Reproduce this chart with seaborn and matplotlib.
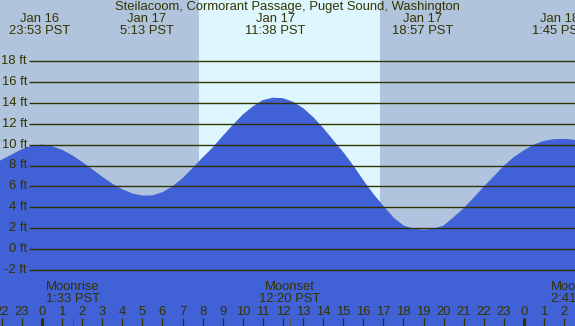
import numpy as np
import pandas as pd
import matplotlib
matplotlib.use("Agg")
import matplotlib.pyplot as plt
import seaborn as sns

# ── data (hours relative to Jan 17 00:00 PST) ──────────────────────────────
tide_hours = np.arange(-3.0, 27.01, 0.5)
tide_ft = [7.5, 8.0, 8.5, 9.0, 9.5, 9.85, 9.95, 9.79, 9.44, 8.92,
           8.28, 7.57, 6.86, 6.20, 5.66, 5.27, 5.07, 5.09, 5.39, 5.94,
           6.72, 7.68, 8.70, 9.65, 10.75, 11.8, 12.8, 13.6, 14.2, 14.44,
           14.38, 14.04, 13.43, 12.57, 11.52, 10.35, 9.2, 7.9, 6.5, 5.2,
           4.05, 2.95, 2.2, 1.9, 1.8, 1.9, 2.2, 3.0, 3.85, 4.85,
           5.9, 6.9, 7.9, 8.75, 9.4, 9.95, 10.3, 10.47, 10.5, 10.4, 10.25]

extreme_hours = [-7 / 60, 5 + 13 / 60, 11 + 38 / 60, 18 + 57 / 60, 25 + 45 / 60]
extreme_dates = ["Jan 16", "Jan 17", "Jan 17", "Jan 17", "Jan 18"]
extreme_times = ["23:53 PST", "5:13 PST", "11:38 PST", "18:57 PST", "1:45 PST"]

sunrise_hour = 7 + 49 / 60
sunset_hour = 16 + 50 / 60

moon_hours = [1 + 33 / 60, 12 + 20 / 60, 26 + 41 / 60]
moon_events = ["Moonrise", "Moonset", "Moonrise"]
moon_times = ["1:33 PST", "12:20 PST", "2:41 PST"]

level_ticks = [-2, 0, 2, 4, 6, 8, 10, 12, 14, 16, 18]
hour_ticks = list(range(-2, 27))

title = "Steilacoom, Cormorant Passage, Puget Sound, Washington"

# ── styling ─────────────────────────────────────────────────────────────────
night_col = "#B0C4DE"
day_col = "#DEF7FF"
water_col = "#4161D6"
ink = "#333300"
FS = 9.4

sns.set_style("white")
plt.rcParams["font.family"] = ["Liberation Sans", "DejaVu Sans"]

# pixel geometry of the original: 20.083 px per hour, hour 0 at x=42,
# 10.45 px per ft, 0 ft at y=249.1
PX_H, X0 = 20.083, 42.0
PX_FT, Y0 = 10.45, 249.1
W, H = 575, 326


def px_x(px):
    return (px - X0) / PX_H


def px_y(py):
    return (Y0 - py) / PX_FT


fig = plt.figure(figsize=(W / 100, H / 100), dpi=100)
fig.patch.set_facecolor(night_col)
ax = fig.add_axes([0, 0, 1, 1])
ax.set_xlim(px_x(0), px_x(W))
ax.set_ylim(px_y(H), px_y(0))
ax.axis("off")

# daylight band
ax.axvspan(sunrise_hour, sunset_hour, color=day_col, lw=0, zorder=1)

# tide curve
df = pd.DataFrame({"hour": tide_hours, "ft": tide_ft})
ax.fill_between(df["hour"], df["ft"], px_y(H + 5), color=water_col, lw=0, zorder=2)
sns.lineplot(data=df, x="hour", y="ft", color=water_col, lw=0.8, ax=ax, zorder=2)

# level lines + labels
for lv in level_ticks:
    ax.plot([px_x(29), px_x(W)], [lv, lv], color=ink, lw=1.0, zorder=3,
            solid_capstyle="butt")
    ax.text(px_x(27), lv, f"{lv} ft", ha="right", va="center",
            fontsize=FS, color=ink, zorder=4)

# title and high/low labels
ax.text(px_x(W / 2), px_y(7.3), title, ha="center", va="center",
        fontsize=FS, color=ink, zorder=4)
for h, d, t in zip(extreme_hours, extreme_dates, extreme_times):
    ax.text(h, px_y(18.7), d, ha="center", va="center", fontsize=FS, color=ink, zorder=4)
    ax.text(h, px_y(31.3), t, ha="center", va="center", fontsize=FS, color=ink, zorder=4)

# moon events
for h, e, t in zip(moon_hours, moon_events, moon_times):
    ax.text(h, px_y(287.5), e, ha="center", va="center", fontsize=FS, color=ink, zorder=4)
    ax.text(h, px_y(299.5), t, ha="center", va="center", fontsize=FS, color=ink, zorder=4)
    ax.plot([h, h], [px_y(318), px_y(H)], color="#555533", lw=0.6, zorder=4)

# hour axis
for h in hour_ticks:
    ax.text(h, px_y(312), str(h % 24), ha="center", va="center",
            fontsize=FS, color=ink, zorder=4)
    lw = 2.3 if h % 24 == 0 else 0.9
    ax.plot([h, h], [px_y(318), px_y(H)], color=ink, lw=lw, zorder=4,
            solid_capstyle="butt")

fig.savefig("out.png", dpi=100, facecolor=night_col)
